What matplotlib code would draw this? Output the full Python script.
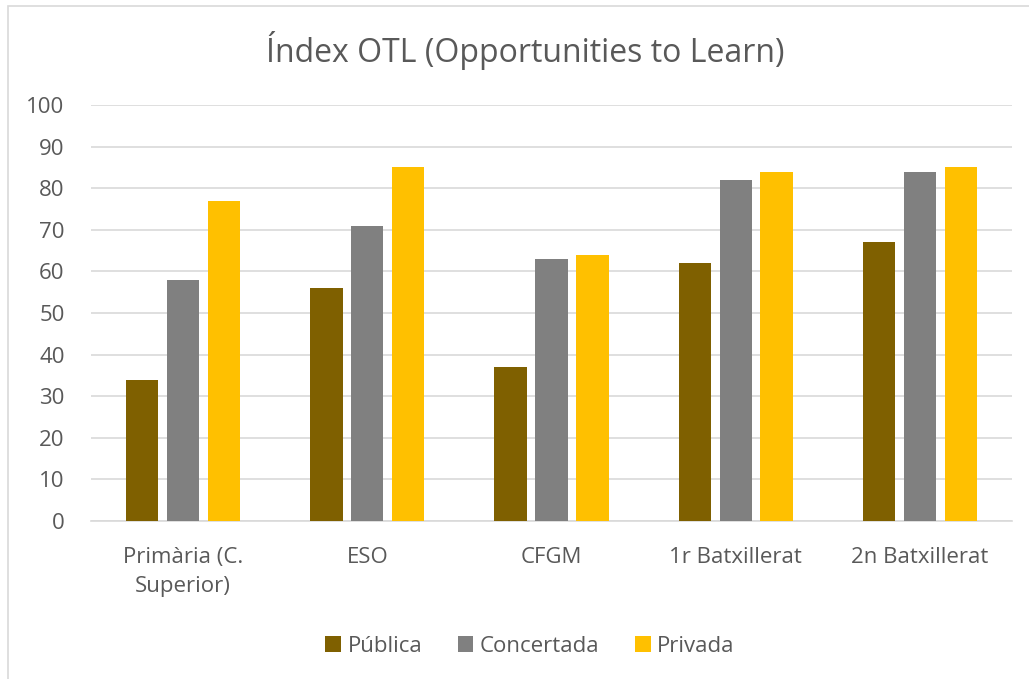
import matplotlib

matplotlib.use("Agg")

import matplotlib.pyplot as plt
import numpy as np
from matplotlib.patches import Rectangle

categories = ["Primària (C.\nSuperior)", "ESO", "CFGM", "1r Batxillerat", "2n Batxillerat"]
series_names = ["Pública", "Concertada", "Privada"]
publica = [34, 56, 37, 62, 67]
concertada = [58, 71, 63, 82, 84]
privada = [77, 85, 64, 84, 85]
yticks = list(range(0, 101, 10))

colors = ["#7F6000", "#808080", "#FFC000"]
text_color = "#595959"

plt.rcParams["font.family"] = ["Open Sans", "DejaVu Sans"]

fig = plt.figure(figsize=(10.29, 6.79), dpi=100)
ax = fig.add_axes([91 / 1029, 1 - 521 / 679, (1012 - 91) / 1029, (521 - 105) / 679])

x = np.arange(len(categories))
width = 0.175
step = 0.222
for i, (name, vals) in enumerate(zip(series_names, [publica, concertada, privada])):
    ax.bar(x + (i - 1) * step, vals, width=width, color=colors[i], label=name, zorder=3)

ax.set_xlim(-0.5, len(categories) - 0.5)
ax.set_ylim(0, 100)
ax.set_yticks(yticks)
ax.set_xticks(x)
ax.set_xticklabels(categories, fontsize=16, color=text_color, linespacing=1.45)
ax.tick_params(axis="y", labelsize=16, labelcolor=text_color, length=0, pad=19)
ax.tick_params(axis="x", length=0, pad=19)
ax.grid(axis="y", color="#D9D9D9", linewidth=1.2, zorder=0)
for s in ["top", "right", "left"]:
    ax.spines[s].set_visible(False)
ax.spines["bottom"].set_color("#D9D9D9")
ax.spines["bottom"].set_linewidth(1.2)

fig.text(525 / 1029, 1 - 50 / 679, "Índex OTL (Opportunities to Learn)", ha="center", va="center",
         fontsize=23, color=text_color)

fig.legend(loc="center", bbox_to_anchor=(530 / 1029, 1 - 646 / 679), ncol=3, frameon=False,
           fontsize=16, labelcolor=text_color, handlelength=0.7, handleheight=0.7,
           handletextpad=0.3, columnspacing=1.6)

fig.patches.append(Rectangle((8 / 1029, -0.1), 1.2, 1 - 6 / 679 + 0.1, transform=fig.transFigure,
                             fill=False, edgecolor="#D9D9D9", linewidth=1.2))

fig.savefig("out.png", dpi=100)
